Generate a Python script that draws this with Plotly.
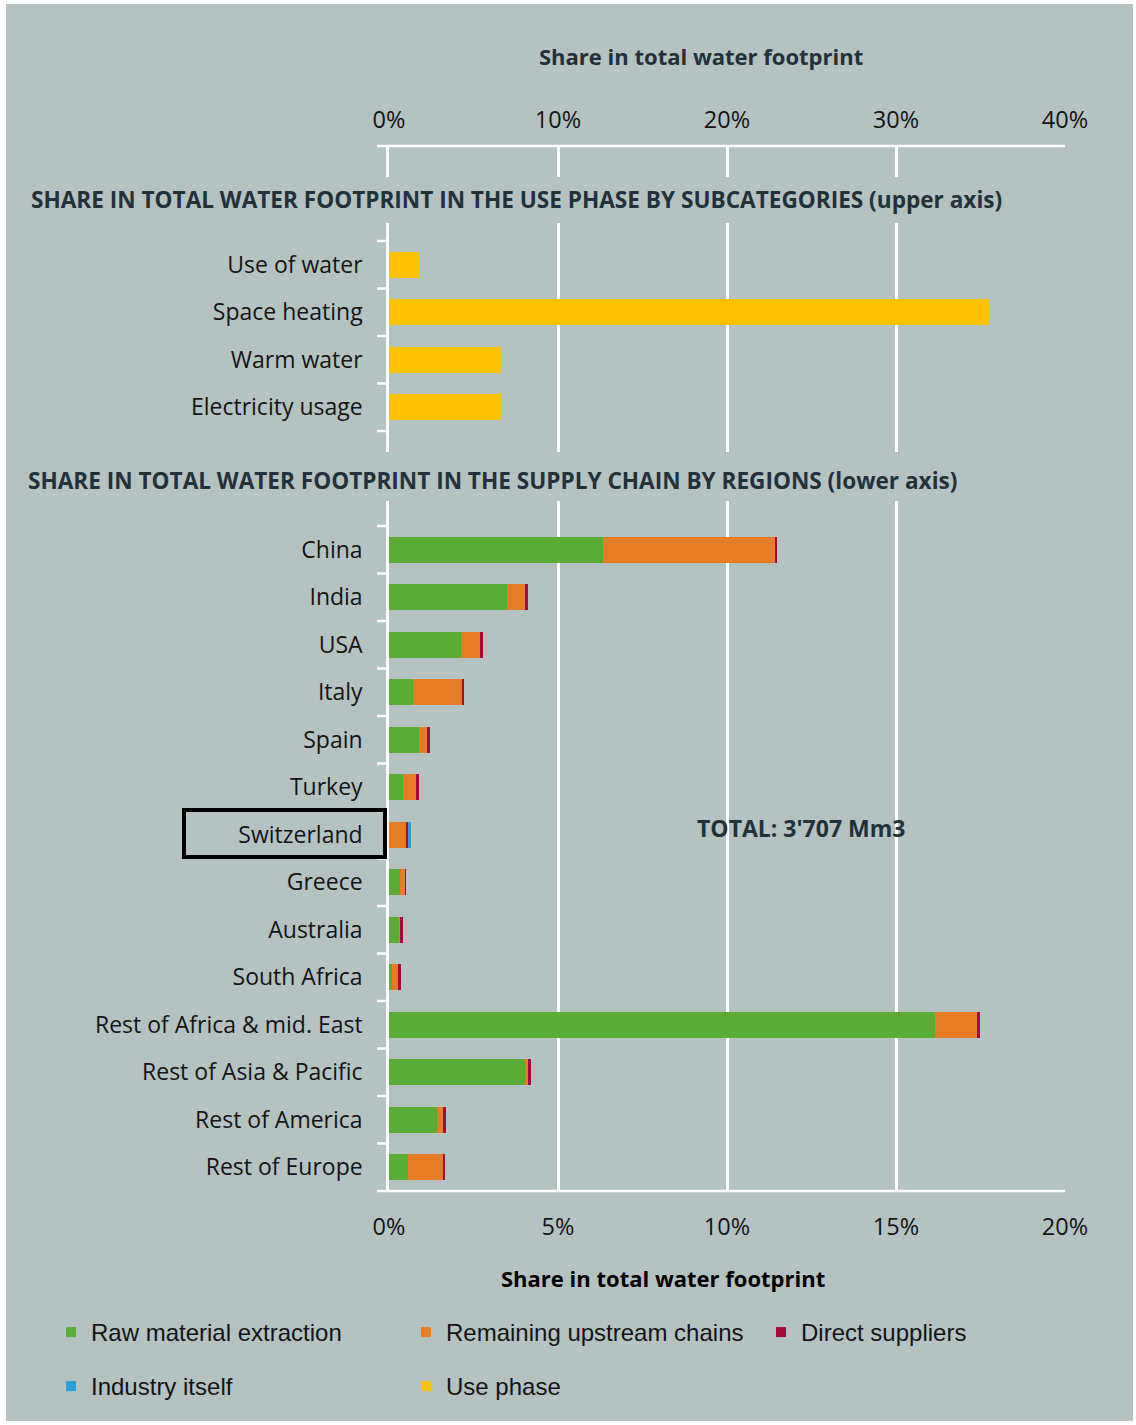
import plotly.graph_objects as go

# ---------------- data ----------------
use_categories = ["Use of water", "Space heating", "Warm water", "Electricity usage"]
use_phase = [1.8, 35.5, 6.65, 6.65]  # % (upper axis)

regions = ["China", "India", "USA", "Italy", "Spain", "Turkey", "Switzerland", "Greece",
           "Australia", "South Africa", "Rest of Africa & mid. East", "Rest of Asia & Pacific",
           "Rest of America", "Rest of Europe"]
raw_material = [6.34, 3.48, 2.13, 0.72, 0.88, 0.41, 0.0, 0.33, 0.32, 0.09, 16.14, 4.02, 1.43, 0.56]
remaining_upstream = [5.07, 0.54, 0.55, 1.43, 0.24, 0.39, 0.49, 0.16, 0.01, 0.17, 1.27, 0.08, 0.17, 1.03]
direct_suppliers = [0.08, 0.09, 0.09, 0.08, 0.08, 0.08, 0.06, 0.01, 0.09, 0.09, 0.07, 0.09, 0.08, 0.08]
industry_itself = [0.0, 0.0, 0.0, 0.0, 0.0, 0.0, 0.10, 0.0, 0.0, 0.0, 0.0, 0.0, 0.0, 0.0]

upper_ticks = [0, 10, 20, 30, 40]
lower_ticks = [0, 5, 10, 15, 20]

# ---------------- styling ----------------
BG = "#b4c2c2"
GREEN = "#5aac34"
ORANGE = "#e67c25"
RED = "#a50a3c"
BLUE = "#2a9fd6"
YELLOW = "#ffc000"
DARK = "#22313a"
TXT = "#141414"

W, H = 1136, 1425
L, R, T, B = 389, 1065, 146, 1191

def px2x(px):
    return (px - L) / (R - L)

def py2y(py):
    return (B - py) / (B - T)

# slot positions (0..21); headers occupy slots 0-1 and 6-7
upper_pos = [2, 3, 4, 5]
lower_pos = list(range(8, 22))

fig = go.Figure()

fig.add_trace(go.Bar(y=upper_pos, x=use_phase, orientation="h", marker=dict(color=YELLOW, line=dict(width=0)),
                     width=0.55, xaxis="x2", yaxis="y", showlegend=False, name="Use phase"))

for vals, col, nm in [(raw_material, GREEN, "Raw material extraction"),
                      (remaining_upstream, ORANGE, "Remaining upstream chains"),
                      (direct_suppliers, RED, "Direct suppliers"),
                      (industry_itself, BLUE, "Industry itself")]:
    fig.add_trace(go.Bar(y=lower_pos, x=vals, orientation="h", marker=dict(color=col, line=dict(width=0)),
                         width=0.55, xaxis="x", yaxis="y", showlegend=False, name=nm))

# legend entries (small square markers)
legend_items = [("Raw material extraction", GREEN, "legend"),
                ("Remaining upstream chains", ORANGE, "legend"),
                ("Direct suppliers", RED, "legend"),
                ("Industry itself", BLUE, "legend2"),
                ("Use phase", YELLOW, "legend2")]
for nm, col, lg in legend_items:
    fig.add_trace(go.Scatter(x=[None], y=[None], mode="markers", name=nm,
                             marker=dict(symbol="square", size=10, color=col),
                             legend=lg, showlegend=True))

shapes = []
# background panel
shapes.append(dict(type="rect", xref="paper", yref="paper", x0=px2x(6), x1=px2x(1133),
                   y0=py2y(1421), y1=py2y(4), fillcolor=BG, line=dict(width=0), layer="below"))
# category boundary ticks
for b in [1.5, 2.5, 3.5, 4.5, 5.5, 7.5] + [p + 0.5 for p in lower_pos[:-1]]:
    shapes.append(dict(type="line", xref="paper", yref="y", x0=px2x(377), x1=0, y0=b, y1=b,
                       line=dict(color="white", width=2.5)))
# header gaps
for y0, y1 in [(177, 223), (452, 501)]:
    shapes.append(dict(type="rect", xref="paper", yref="paper", x0=px2x(370), x1=px2x(1080),
                       y0=py2y(y1), y1=py2y(y0), fillcolor=BG, line=dict(width=0)))
# top / bottom frame lines
for yy in [0, 1]:
    shapes.append(dict(type="line", xref="paper", yref="paper", x0=px2x(377), x1=1, y0=yy, y1=yy,
                       line=dict(color="white", width=2.5)))
# Switzerland highlight box
shapes.append(dict(type="rect", xref="paper", yref="paper", x0=px2x(184), x1=px2x(385),
                   y0=py2y(857), y1=py2y(810), line=dict(color="black", width=4), fillcolor="rgba(0,0,0,0)"))

annotations = [
    dict(text="<b>Share in total water footprint</b>", x=px2x(701), y=py2y(56), xref="paper", yref="paper",
         showarrow=False, font=dict(family="Open Sans", size=22, color=DARK), xanchor="center", yanchor="middle"),
    dict(text="<b>Share in total water footprint</b>", x=px2x(663), y=py2y(1278), xref="paper", yref="paper",
         showarrow=False, font=dict(family="Open Sans", size=22, color="black"), xanchor="center", yanchor="middle"),
    dict(text="<b>SHARE IN TOTAL WATER FOOTPRINT IN THE USE PHASE BY SUBCATEGORIES (upper axis)</b>",
         x=px2x(29), y=py2y(200), xref="paper", yref="paper", showarrow=False,
         font=dict(family="Open Sans", size=22.6, color=DARK), xanchor="left", yanchor="middle"),
    dict(text="<b>SHARE IN TOTAL WATER FOOTPRINT IN THE SUPPLY CHAIN BY REGIONS (lower axis)</b>",
         x=px2x(26), y=py2y(480), xref="paper", yref="paper", showarrow=False,
         font=dict(family="Open Sans", size=22.6, color=DARK), xanchor="left", yanchor="middle"),
    dict(text="<b>TOTAL: 3'707 Mm3</b>", x=px2x(801), y=py2y(828), xref="paper", yref="paper",
         showarrow=False, font=dict(family="Open Sans", size=23, color=DARK), xanchor="center", yanchor="middle"),
]

fig.update_layout(
    width=W, height=H,
    margin=dict(l=L, r=W - R, t=T, b=H - B, pad=0),
    paper_bgcolor="white",
    plot_bgcolor="rgba(0,0,0,0)",
    barmode="stack",
    bargap=0,
    font=dict(family="Open Sans", color=TXT),
    xaxis=dict(range=[0, 20], tickvals=lower_ticks, ticktext=[f"{v}%" for v in lower_ticks],
               side="bottom", showgrid=True, gridcolor="white", gridwidth=2.5, zeroline=False,
               showline=False, ticks="", ticklabelstandoff=19,
               tickfont=dict(family="Open Sans", size=23.5, color=TXT), fixedrange=True),
    xaxis2=dict(range=[0, 40], tickvals=upper_ticks, ticktext=[f"{v}%" for v in upper_ticks],
                side="top", overlaying="x", anchor="y", showgrid=False, zeroline=False, showline=False,
                ticks="", ticklabelstandoff=12,
                tickfont=dict(family="Open Sans", size=23.5, color=TXT), fixedrange=True),
    yaxis=dict(range=[21.5, -0.5], tickvals=upper_pos + lower_pos, ticktext=use_categories + regions,
               showgrid=False, zeroline=False, showline=True, linecolor="white", linewidth=2.5,
               ticks="", ticklabelstandoff=19,
               tickfont=dict(family="Open Sans", size=23, color=TXT), fixedrange=True),
    legend=dict(orientation="h", x=px2x(51), y=py2y(1310), xanchor="left", yanchor="top",
                entrywidth=310, entrywidthmode="pixels", bgcolor="rgba(0,0,0,0)", traceorder="normal",
                font=dict(family="Liberation Sans", size=24, color=TXT), itemwidth=30),
    legend2=dict(orientation="h", x=px2x(51), y=py2y(1364), xanchor="left", yanchor="top",
                 entrywidth=310, entrywidthmode="pixels", bgcolor="rgba(0,0,0,0)", traceorder="normal",
                 font=dict(family="Liberation Sans", size=24, color=TXT), itemwidth=30),
    shapes=shapes,
    annotations=annotations,
)

fig.write_html("out.html")
